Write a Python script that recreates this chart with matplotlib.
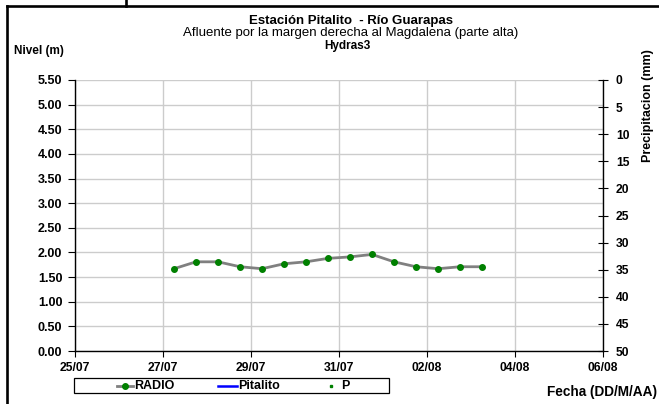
import matplotlib
matplotlib.use("Agg")
import matplotlib.pyplot as plt
import matplotlib.dates as mdates
from matplotlib.lines import Line2D
from matplotlib.patches import Rectangle
import datetime as dt

plt.rcParams['font.family'] = ['Liberation Sans', 'DejaVu Sans']

# ---- data ----
times = ["2023-07-27 06:00", "2023-07-27 18:00", "2023-07-28 06:00", "2023-07-28 18:00",
         "2023-07-29 06:00", "2023-07-29 18:00", "2023-07-30 06:00", "2023-07-30 18:00",
         "2023-07-31 06:00", "2023-07-31 18:00", "2023-08-01 06:00", "2023-08-01 18:00",
         "2023-08-02 06:00", "2023-08-02 18:00", "2023-08-03 06:00"]
radio = [1.67, 1.81, 1.81, 1.71, 1.67, 1.77, 1.81, 1.88, 1.91, 1.96, 1.81, 1.71, 1.67, 1.71, 1.71]
x_ticks = ["2023-07-25", "2023-07-27", "2023-07-29", "2023-07-31", "2023-08-02", "2023-08-04", "2023-08-06"]
y_ticks = [0.0, 0.5, 1.0, 1.5, 2.0, 2.5, 3.0, 3.5, 4.0, 4.5, 5.0, 5.5]
p_ticks = [0, 5, 10, 15, 20, 25, 30, 35, 40, 45, 50]
legend_labels = ["RADIO", "Pitalito", "P"]

t = [dt.datetime.strptime(s, "%Y-%m-%d %H:%M") for s in times]
xt = [dt.datetime.strptime(s, "%Y-%m-%d") for s in x_ticks]

W, H = 659, 404
fig = plt.figure(figsize=(W / 100, H / 100), dpi=100)


def fx(px):
    return px / W


def fy(py):
    return 1 - py / H


ax = fig.add_axes([fx(75), fy(351), (603 - 75) / W, (351 - 80) / H])

GRAY = '#808080'
GREEN = '#008000'
ax.plot(t, radio, color=GRAY, lw=2.0, zorder=3, solid_capstyle='round')
ax.plot(t, radio, ls='none', marker='o', ms=4.0, color=GREEN, zorder=4)

ax.set_xlim(xt[0], xt[-1])
ax.set_ylim(0, 5.5)
ax.set_xticks(xt)
ax.xaxis.set_major_formatter(mdates.DateFormatter('%d/%m'))
ax.set_yticks(y_ticks)
ax.set_yticklabels([f"{v:.2f}" for v in y_ticks])
ax.grid(True, color='#cccccc', lw=1.0)
ax.set_axisbelow(True)
for s in ['top', 'right']:
    ax.spines[s].set_visible(False)
ax.spines['left'].set_linewidth(1.0)
ax.spines['bottom'].set_linewidth(1.0)
ax.tick_params(axis='y', labelsize=9, length=5, width=0.8, pad=4)
ax.tick_params(axis='x', labelsize=8.7, length=4, width=0.8, pad=4)
for lab in ax.get_xticklabels() + ax.get_yticklabels():
    lab.set_fontweight('bold')

ax2 = ax.twinx()
ax2.set_ylim(50, 0)
ax2.set_yticks(p_ticks)
ax2.set_yticklabels([str(v) for v in p_ticks])
for s in ['top', 'left', 'bottom']:
    ax2.spines[s].set_visible(False)
ax2.spines['right'].set_linewidth(1.0)
ax2.tick_params(axis='y', labelsize=8.7, length=6.5, width=0.8, direction='inout', pad=6)
for lab in ax2.get_yticklabels():
    lab.set_fontweight('bold')

# titles
fig.text(fx(351), fy(21), "Estación Pitalito  - Río Guarapas", ha='center', va='center',
         fontsize=9.5, fontweight='bold')
fig.text(fx(351), fy(33), "Afluente por la margen derecha al Magdalena (parte alta)", ha='center',
         va='center', fontsize=9.5)
fig.text(fx(347), fy(45.5), "Hydras3", ha='center', va='center', fontsize=8.5, fontweight='bold')
fig.text(fx(14), fy(51), "Nivel (m)", ha='left', va='center', fontsize=8.5, fontweight='bold')
fig.text(fx(648), fy(106), "Precipitacion (mm)", ha='center', va='center', rotation=90,
         fontsize=9, fontweight='bold')
fig.text(fx(657), fy(392), "Fecha (DD/M/AA)", ha='right', va='center', fontsize=9.8,
         fontweight='bold')

# legend (drawn in figure pixel positions)
fig.add_artist(Rectangle((fx(74), fy(393)), (389 - 74) / W, (393 - 378) / H, transform=fig.transFigure,
                         fill=False, edgecolor='black', lw=0.9))
ly = fy(385.5)
fig.add_artist(Line2D([fx(117), fx(133)], [ly, ly], color=GRAY, lw=2.0, transform=fig.transFigure))
fig.add_artist(Line2D([fx(125)], [ly], ls='none', marker='o', ms=4.0, color=GREEN,
                      transform=fig.transFigure))
fig.add_artist(Line2D([fx(218), fx(237)], [ly, ly], color='#0000ff', lw=1.8, transform=fig.transFigure))
fig.add_artist(Line2D([fx(331)], [ly], ls='none', marker='s', ms=1.8, color=GREEN,
                      transform=fig.transFigure))
for px, lab in zip([134, 238, 341], legend_labels):
    fig.text(fx(px), fy(386), lab, ha='left', va='center', fontsize=9, fontweight='bold')

# outer frame lines
fig.add_artist(Line2D([fx(7), 1], [fy(5.5), fy(5.5)], color='black', lw=1.9, transform=fig.transFigure))
fig.add_artist(Line2D([fx(7.3), fx(7.3)], [0, fy(5.5)], color='black', lw=1.9, transform=fig.transFigure))
fig.add_artist(Line2D([fx(125.5), fx(125.5)], [1, fy(5.5)], color='black', lw=1.9, transform=fig.transFigure))

fig.savefig("out.png", dpi=100)
